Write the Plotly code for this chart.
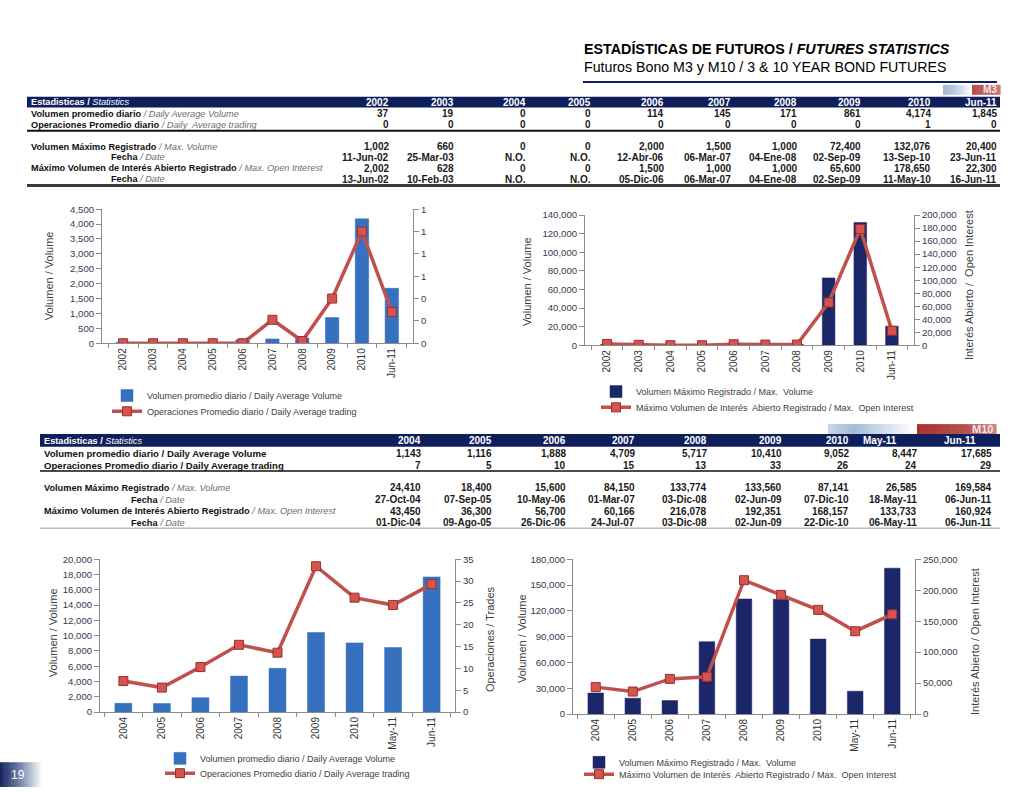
import plotly.graph_objects as go

# ---------------- DATA ----------------
m3_periods = ["2002", "2003", "2004", "2005", "2006", "2007", "2008", "2009", "2010", "Jun-11"]
m3_avg_volume = [37, 19, 0, 0, 114, 145, 171, 861, 4174, 1845]
m3_avg_trades_table = [0, 0, 0, 0, 0, 0, 0, 0, 1, 0]
m3_avg_trades_chart = [0.0, 0.0, 0.0, 0.0, 0.0, 0.21, 0.02, 0.40, 1.0, 0.28]
m3_max_volume = [1002, 660, 0, 0, 2000, 1500, 1000, 72400, 132076, 20400]
m3_max_volume_date = ["11-Jun-02", "25-Mar-03", "N.O.", "N.O.", "12-Abr-06", "06-Mar-07",
                      "04-Ene-08", "02-Sep-09", "13-Sep-10", "23-Jun-11"]
m3_max_oi = [2002, 628, 0, 0, 1500, 1000, 1000, 65600, 178650, 22300]
m3_max_oi_date = ["13-Jun-02", "10-Feb-03", "N.O.", "N.O.", "05-Dic-06", "06-Mar-07",
                  "04-Ene-08", "02-Sep-09", "11-May-10", "16-Jun-11"]

m10_periods = ["2004", "2005", "2006", "2007", "2008", "2009", "2010", "May-11", "Jun-11"]
m10_avg_volume = [1143, 1116, 1888, 4709, 5717, 10410, 9052, 8447, 17685]
m10_avg_trades_table = [7, 5, 10, 15, 13, 33, 26, 24, 29]
m10_avg_trades_chart = [7.1, 5.6, 10.3, 15.4, 13.6, 33.4, 26.2, 24.5, 29.3]
m10_max_volume = [24410, 18400, 15600, 84150, 133774, 133560, 87141, 26585, 169584]
m10_max_volume_date = ["27-Oct-04", "07-Sep-05", "10-May-06", "01-Mar-07", "03-Dic-08",
                       "02-Jun-09", "07-Dic-10", "18-May-11", "06-Jun-11"]
m10_max_oi = [43450, 36300, 56700, 60166, 216078, 192351, 168157, 133733, 160924]
m10_max_oi_date = ["01-Dic-04", "09-Ago-05", "26-Dic-06", "24-Jul-07", "03-Dic-08",
                   "02-Jun-09", "22-Dic-10", "06-May-11", "06-Jun-11"]

lbl_avg_vol = "Volumen promedio diario / Daily Average Volume"
lbl_avg_trd = "Operaciones Promedio diario / Daily Average trading"
lbl_max_vol = "Volumen Máximo Registrado / Max.  Volume"
lbl_max_oi = "Máximo Volumen de Interés  Abierto Registrado / Max.  Open Interest"

# ---------------- STYLE ----------------
W, H = 1024, 792
def px(x): return x / W
def py(y): return 1 - y / H

FONT = "Liberation Sans, Arial, sans-serif"
TFONT = "Liberation Sans Narrow, Arial Narrow, Liberation Sans, Arial, sans-serif"
BLUE = "#3571BF"
NAVY = "#1B2769"
RED = "#C0504D"
HEADER = "#0F1F5C"
AX = "#8C8C8C"
TICK = "#3F3350"
GRAY_IT = "#6E6E6E"

fig = go.Figure()

def line_trace(x, y, name, xa, ya, lg):
    return go.Scatter(x=x, y=y, name=name, mode="lines+markers", xaxis=xa, yaxis=ya, legend=lg,
                      line=dict(color=RED, width=3.5),
                      marker=dict(symbol="square", size=9, color="#D45450",
                                  line=dict(color="#9E2F2C", width=1)))

def bar_trace(x, y, name, xa, ya, lg, color, width):
    return go.Bar(x=x, y=y, name=name, xaxis=xa, yaxis=ya, legend=lg, width=width,
                  marker=dict(color=color, line=dict(color=color, width=0.5)))

fig.add_trace(bar_trace(m3_periods, m3_avg_volume, lbl_avg_vol, "x", "y", "legend", BLUE, 0.45))
fig.add_trace(line_trace(m3_periods, m3_avg_trades_chart, lbl_avg_trd, "x", "y2", "legend5"))
fig.add_trace(bar_trace(m3_periods, m3_max_volume, lbl_max_vol, "x2", "y3", "legend2", NAVY, 0.4))
fig.add_trace(line_trace(m3_periods, m3_max_oi, lbl_max_oi, "x2", "y4", "legend6"))
fig.add_trace(bar_trace(m10_periods, m10_avg_volume, lbl_avg_vol, "x3", "y5", "legend3", BLUE, 0.44))
fig.add_trace(line_trace(m10_periods, m10_avg_trades_chart, lbl_avg_trd, "x3", "y6", "legend7"))
fig.add_trace(bar_trace(m10_periods, m10_max_volume, lbl_max_vol, "x4", "y7", "legend4", NAVY, 0.42))
fig.add_trace(line_trace(m10_periods, m10_max_oi, lbl_max_oi, "x4", "y8", "legend8"))

def xax(x0, x1, ya):
    return dict(domain=[px(x0), px(x1)], anchor=ya, type="category", tickangle=-90,
                showline=True, linecolor=AX, linewidth=1, ticks="outside", tickson="boundaries",
                ticklen=4, tickcolor=AX, showgrid=False, fixedrange=True,
                tickfont=dict(family=FONT, size=10, color="#333333"))

def yax(y0, y1, xa, rng, dtick, fmt, right=False, overlay=None):
    d = dict(range=rng, dtick=dtick, tickformat=fmt, showline=True, linecolor=AX, linewidth=1,
             ticks="outside", ticklen=5, tickcolor=AX, showgrid=False, zeroline=False,
             fixedrange=True, anchor=xa, tickfont=dict(family=FONT, size=9.6, color=TICK))
    if right:
        d.update(side="right", overlaying=overlay)
    else:
        d.update(domain=[py(y0), py(y1)])
    return d

def legend(x_text, y_center):
    return dict(x=px(x_text - 40), y=py(y_center), xanchor="left", yanchor="middle",
                orientation="v", bgcolor="rgba(0,0,0,0)", itemwidth=30, tracegroupgap=0,
                font=dict(family=FONT, size=9, color="#404040"))

fig.update_layout(
    autosize=True, margin=dict(l=0, r=0, t=0, b=0),
    paper_bgcolor="white", plot_bgcolor="rgba(0,0,0,0)", bargap=0.5,
    xaxis=xax(102, 413, "y"),
    yaxis=yax(342, 206, "x", [0, 4500], 500, ","),
    yaxis2=yax(0, 0, "x", [0, 1.2], 0.2, ".0f", True, "y"),
    xaxis2=xax(585, 914, "y3"),
    yaxis3=yax(344, 212, "x2", [0, 140000], 20000, ","),
    yaxis4=yax(0, 0, "x2", [0, 200000], 20000, ",", True, "y3"),
    xaxis3=xax(100, 455, "y5"),
    yaxis5=yax(716, 561, "x3", [0, 20000], 2000, ","),
    yaxis6=yax(0, 0, "x3", [0, 35], 5, ",", True, "y5"),
    xaxis4=xax(573, 915, "y7"),
    yaxis7=yax(718, 561, "x4", [0, 180000], 30000, ","),
    yaxis8=yax(0, 0, "x4", [0, 250000], 50000, ",", True, "y7"),
    legend=legend(147, 395),
    legend5=legend(147, 411),
    legend2=legend(636, 391),
    legend6=legend(636, 407),
    legend3=legend(200, 763),
    legend7=legend(200, 778),
    legend4=legend(619, 767),
    legend8=legend(619, 779),
    showlegend=True,
)

ann = []
shapes = []

def text(x, y, s, size=10, color="#1a1a1a", xanchor="right", family=TFONT, angle=0):
    ann.append(dict(x=px(x), y=py(y), xref="paper", yref="paper", text=s, showarrow=False,
                    xanchor=xanchor, yanchor="middle", textangle=angle,
                    font=dict(family=family, size=size, color=color), borderpad=0))

def rect(x0, y0, x1, y1, color):
    shapes.append(dict(type="rect", xref="paper", yref="paper", x0=px(x0), x1=px(x1),
                       y0=py(y1), y1=py(y0), fillcolor=color, line=dict(width=0), layer="above"))

def hline(x0, x1, y, color, w):
    shapes.append(dict(type="line", xref="paper", yref="paper", x0=px(x0), x1=px(x1),
                       y0=py(y), y1=py(y), line=dict(color=color, width=w)))

def hexrgb(h):
    h = h.lstrip("#")
    return tuple(int(h[i:i + 2], 16) for i in (0, 2, 4))

def gradient(x0, x1, y0, y1, stops, n=40):
    step = (x1 - x0) / n
    for i in range(n):
        t = (i + 0.5) / n
        col = stops[-1][1]
        for j in range(len(stops) - 1):
            if stops[j][0] <= t <= stops[j + 1][0]:
                a, ca = stops[j]
                b, cb = stops[j + 1]
                f = (t - a) / (b - a) if b > a else 0
                c1, c2 = hexrgb(ca), hexrgb(cb)
                col = "rgb(%d,%d,%d)" % tuple(round(c1[k] + (c2[k] - c1[k]) * f) for k in range(3))
                break
        rect(x0 + i * step, y0, x0 + (i + 1) * step + 0.6, y1, col)

# ---------------- TITLE ----------------
text(583, 44, "<b>ESTADÍSTICAS DE FUTUROS / <i>FUTURES STATISTICS</i></b>", 14.3, "#000000", "left", FONT)
text(583, 62, "Futuros Bono M3 y M10 / 3 & 10 YEAR BOND FUTURES", 14.2, "#000000", "left", FONT)
hline(583, 997, 77, HEADER, 2)

gradient(943, 972, 80, 90, [(0, "#9FB6D4"), (0.35, "#B3C6DE"), (1, "#FFFFFF")], 20)
gradient(972, 1000, 80, 90, [(0, "#B84A48"), (1, "#C77A78")], 14)
text(998, 85, "<b>M3</b>", 10, "#F4E6E6", "right", FONT)

# ---------------- TABLE M3 ----------------
LS = 9.2
rect(27, 92, 1000, 103, HEADER)
text(30, 97.5, "<b>Estadisticas / </b><i>Statistics</i>", LS, "#FFFFFF", "left")
m3_cols = [390, 455, 527, 592, 665, 732, 798, 862, 932, 998]
for cx, p in zip(m3_cols, m3_periods):
    text(cx, 97.5, "<b>%s</b>" % p, 10, "#FFFFFF")

def lab(bold, it):
    return "<b>%s</b> <span style='color:%s'><i>%s</i></span>" % (bold, GRAY_IT, it)

text(30, 109.5, lab("Volumen promedio diario", "/ Daily Average Volume"), LS, "#111111", "left")
text(30, 120.5, lab("Operaciones Promedio diario", "/ Daily  Average trading"), LS, "#111111", "left")
text(30, 142.5, lab("Volumen Máximo Registrado", "/ Max. Volume"), LS, "#111111", "left")
text(138, 153.5, lab("Fecha", "/ Date"), LS, "#111111", "center")
text(30, 164.5, lab("Máximo Volumen de Interés Abierto Registrado", "/ Max. Open Interest"), LS, "#111111", "left")
text(138, 175.5, lab("Fecha", "/ Date"), LS, "#111111", "center")

def fmt(v):
    return "{:,}".format(v) if isinstance(v, int) else v

for i, cx in enumerate(m3_cols):
    text(cx, 109.5, "<b>%s</b>" % fmt(m3_avg_volume[i]))
    text(cx, 120.5, "<b>%s</b>" % fmt(m3_avg_trades_table[i]))
    text(cx, 142.5, "<b>%s</b>" % fmt(m3_max_volume[i]))
    text(cx, 153.5, "<b>%s</b>" % m3_max_volume_date[i])
    text(cx, 164.5, "<b>%s</b>" % fmt(m3_max_oi[i]))
    text(cx, 175.5, "<b>%s</b>" % m3_max_oi_date[i])
hline(27, 1000, 126.5, "#111111", 2)
hline(27, 1000, 182, "#3A3A3A", 3)

# ---------------- TABLE M10 ----------------
gradient(828, 914, 424, 434, [(0, "#C9D7E8"), (0.3, "#A3BBD8"), (1, "#FFFFFF")], 40)
gradient(917, 996, 424, 434, [(0, "#A8302F"), (0.6, "#B4504E"), (1, "#C88A88")], 30)
text(994, 429, "<b>M10</b>", 11, "#F4E6E6", "right", FONT)

rect(40, 434, 1000, 447, HEADER)
text(43, 441, "<b>Estadisticas / </b><i>Statistics</i>", LS, "#FFFFFF", "left")
m10_cols = [422, 493, 567, 636, 708, 783, 850, 918, 993]
m10_head = [422, 493, 567, 636, 708, 783, 850, 898, 977]
for cx, p in zip(m10_head, m10_periods):
    text(cx, 441, "<b>%s</b>" % p, 10, "#FFFFFF")

text(43, 453.5, "<b>Volumen promedio diario / Daily Average Volume</b>", 9.6, "#111111", "left")
text(43, 466, "<b>Operaciones Promedio diario / Daily Average trading</b>", 9.6, "#111111", "left")
text(43, 488.5, lab("Volumen Máximo Registrado", "/ Max. Volume"), LS, "#111111", "left")
text(158, 500.5, lab("Fecha", "/ Date"), LS, "#111111", "center")
text(43, 512.5, lab("Máximo Volumen de Interés Abierto Registrado", "/ Max. Open Interest"), LS, "#111111", "left")
text(158, 524, lab("Fecha", "/ Date"), LS, "#111111", "center")
for i, cx in enumerate(m10_cols):
    text(cx, 453.5, "<b>%s</b>" % fmt(m10_avg_volume[i]))
    text(cx, 466, "<b>%s</b>" % fmt(m10_avg_trades_table[i]))
    text(cx, 488.5, "<b>%s</b>" % fmt(m10_max_volume[i]))
    text(cx, 500.5, "<b>%s</b>" % m10_max_volume_date[i])
    text(cx, 512.5, "<b>%s</b>" % fmt(m10_max_oi[i]))
    text(cx, 524, "<b>%s</b>" % m10_max_oi_date[i])
hline(40, 1000, 471.5, "#111111", 1.5)
hline(40, 1000, 529.5, "#9A9A9A", 1)

# ---------------- AXIS TITLES ----------------
text(49, 274, "Volumen / Volume", 11, "#404040", "center", FONT, -90)
text(527, 280, "Volumen / Volume", 11, "#404040", "center", FONT, -90)
text(969, 283, "Interés Abierto /  Open Interest", 11, "#404040", "center", FONT, -90)
text(53, 636, "Volumen / Volume", 11, "#404040", "center", FONT, -90)
text(490, 642, "Operaciones / Trades", 11, "#404040", "center", FONT, -90)
text(522, 642, "Volumen / Volume", 11, "#404040", "center", FONT, -90)
text(975, 645, "Interés Abierto / Open Interest", 11, "#404040", "center", FONT, -90)

# ---------------- PAGE NUMBER ----------------
gradient(0, 42, 767, 792, [(0, "#14235E"), (0.45, "#6F7DA6"), (1, "#FFFFFF")], 30)
text(18, 780, "19", 12, "#FFFFFF", "center", FONT)

fig.update_layout(annotations=ann, shapes=shapes)
fig.write_html(
    "out.html",
    default_width="100vw",
    default_height="100vh",
    config={"displayModeBar": False, "responsive": True},
    post_script=(
        "document.documentElement.style.margin='0';document.body.style.margin='0';"
        "document.documentElement.style.overflow='hidden';document.body.style.overflow='hidden';"
        "var d=document.getElementById('{plot_id}');d.style.position='fixed';"
        "d.style.left='0px';d.style.top='0px';d.style.width='100vw';d.style.height='100vh';"
        "window.Plotly.Plots.resize(d);"
    ),
)
